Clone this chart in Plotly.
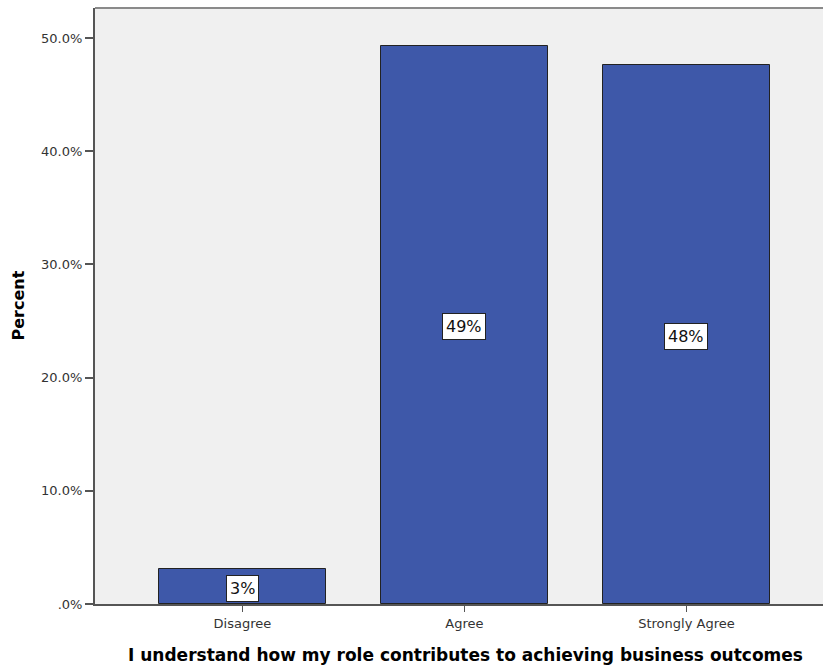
import plotly.graph_objects as go

# Response categories and their share of respondents (percent)
categories = ["Disagree", "Agree", "Strongly Agree"]
percents = [3.1, 49.3, 47.6]
bar_labels = ["3%", "49%", "48%"]

y_tick_values = [0, 10, 20, 30, 40, 50]
y_tick_text = [".0%", "10.0%", "20.0%", "30.0%", "40.0%", "50.0%"]

x_title = "I understand how my role contributes to achieving business outcomes"
y_title = "Percent"

BAR_COLOR = "#3E58A9"
PLOT_BG = "#F0F0F0"
AXIS_COLOR = "#555555"
FONT = "DejaVu Sans, Verdana, sans-serif"

fig = go.Figure()
fig.add_trace(go.Bar(
    x=list(range(len(categories))),
    y=percents,
    width=0.75,
    marker=dict(color=BAR_COLOR, line=dict(color="#222222", width=1)),
    hoverinfo="skip",
))

# Value labels in white boxes at the middle of each bar
for i, (v, lab) in enumerate(zip(percents, bar_labels)):
    fig.add_annotation(
        x=i, y=v / 2, text=lab, showarrow=False, yshift=-2,
        font=dict(family=FONT, size=16, color="#111111"),
        bgcolor="white", bordercolor="#222222", borderwidth=1, borderpad=3,
    )

# Vertical axis title
fig.add_annotation(
    xref="paper", yref="paper", x=0, y=0.5, xshift=-89,
    text="<b>" + y_title + "</b>", textangle=-90, showarrow=False,
    font=dict(family=FONT, size=16, color="#000000"),
)

# Horizontal axis title
fig.add_annotation(
    xref="paper", yref="paper", x=0.5, y=0, xshift=6, yshift=-51,
    yanchor="middle", text="<b>" + x_title + "</b>", showarrow=False,
    font=dict(family=FONT, size=17, color="#000000"),
)

# Grey frame line along the top of the plot area
fig.add_shape(type="line", xref="paper", yref="paper", x0=0, x1=1, y0=1, y1=1,
              line=dict(color="#8a8a8a", width=2))

fig.update_layout(
    width=823, height=667,
    margin=dict(l=95, r=0, t=8, b=63),
    paper_bgcolor="white",
    plot_bgcolor=PLOT_BG,
    showlegend=False,
    bargap=0,
    font=dict(family=FONT, color="#222222"),
    xaxis=dict(
        range=[-0.664, 2.615],
        tickvals=list(range(len(categories))),
        ticktext=categories,
        ticks="outside", ticklen=6, tickwidth=1, tickcolor=AXIS_COLOR,
        tickfont=dict(family=FONT, size=13, color="#333333"),
        showline=True, linecolor=AXIS_COLOR, linewidth=2,
        showgrid=False, zeroline=False,
    ),
    yaxis=dict(
        range=[0, 52.65],
        tickvals=y_tick_values,
        ticktext=y_tick_text,
        ticks="outside", ticklen=8, tickwidth=2, tickcolor=AXIS_COLOR,
        tickfont=dict(family=FONT, size=13, color="#333333"),
        showline=True, linecolor=AXIS_COLOR, linewidth=2,
        showgrid=False, zeroline=False,
    ),
)

fig.write_html("out.html")
